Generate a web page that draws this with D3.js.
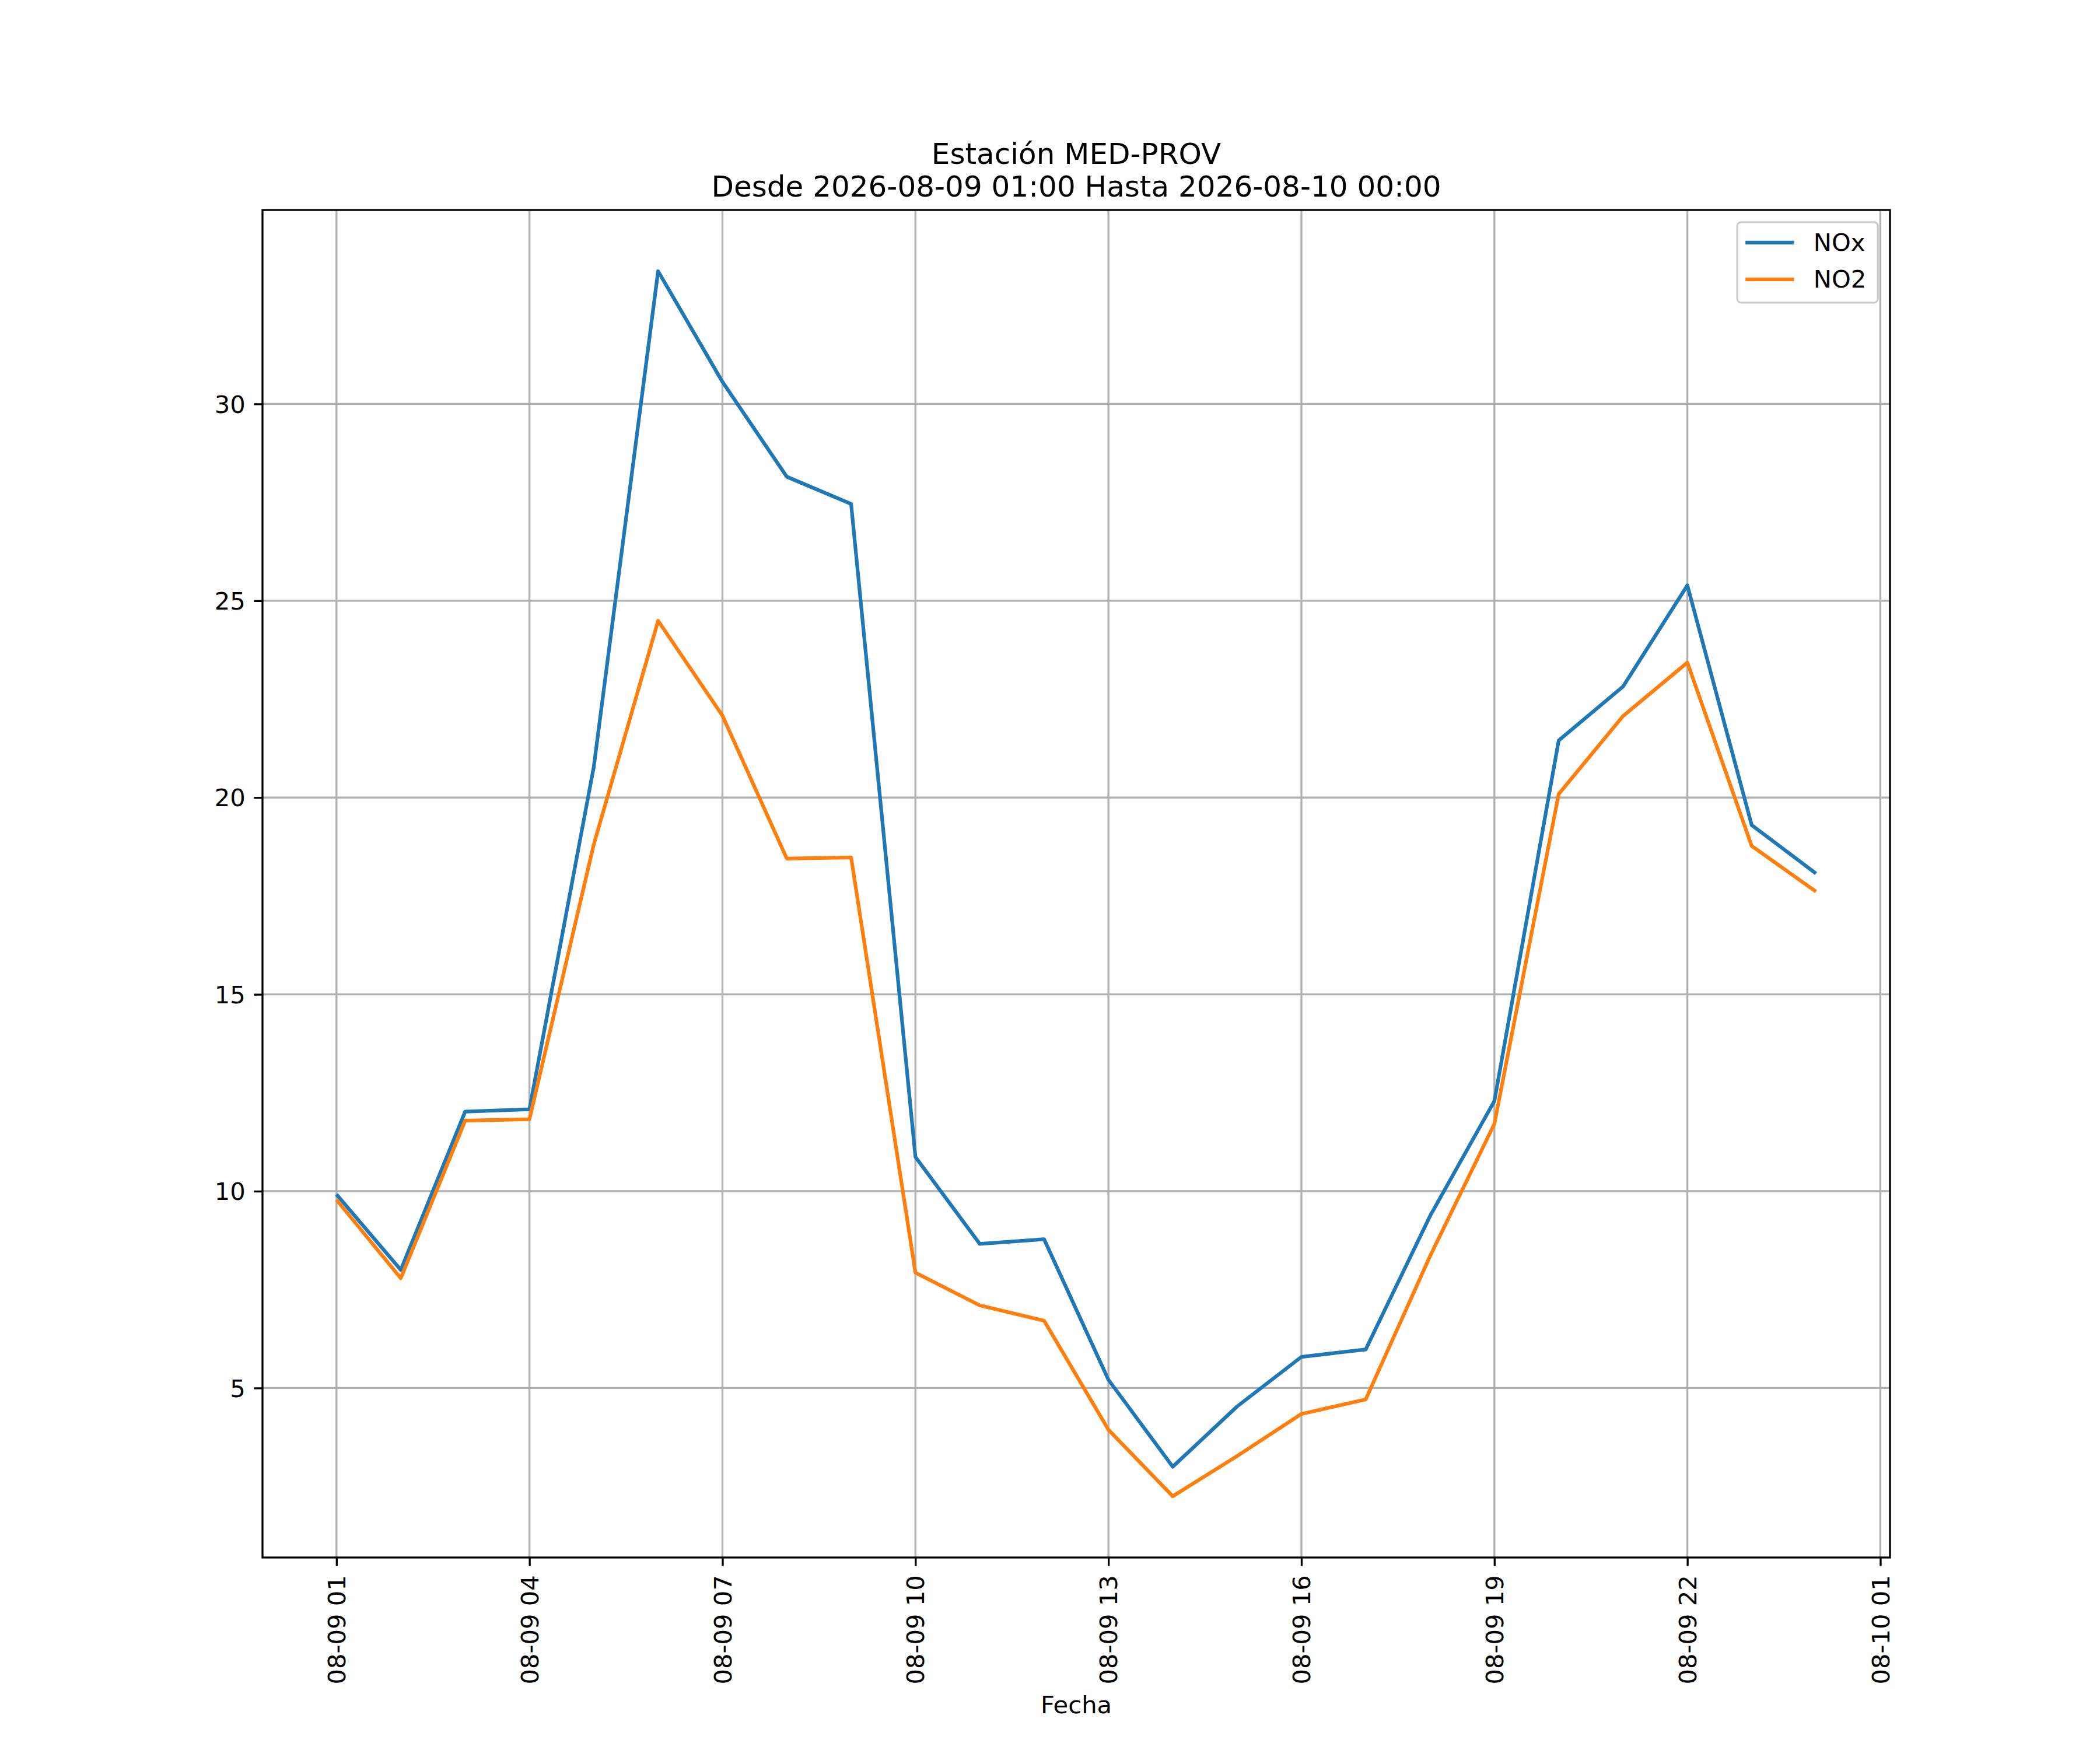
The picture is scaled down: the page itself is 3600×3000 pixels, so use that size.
<!DOCTYPE html>
<html>
<head>
<meta charset="utf-8">
<script src="https://cdn.jsdelivr.net/npm/d3@7"></script>
<style>
  body { margin: 0; background: #fff; }
  text { font-family: "DejaVu Sans", sans-serif; fill: #000; }
</style>
</head>
<body>
<div id="chart"></div>
<script>
// Datos horarios, 2026-08-09 01:00 .. 2026-08-10 00:00
var inicio = "2026-08-09T01:00:00Z",
    fin = "2026-08-10T00:00:00Z";

var noxValores = [9.92, 8.0, 12.02, 12.08, 20.78, 33.37, 30.56, 28.15, 27.46, 10.87,
                  8.66, 8.78, 5.21, 3.0, 4.53, 5.79, 5.98, 9.37, 12.29, 21.45,
                  22.82, 25.39, 19.3, 18.07];
var no2Valores = [9.78, 7.79, 11.79, 11.83, 18.81, 24.49, 22.08, 18.45, 18.48, 7.93,
                  7.1, 6.71, 3.94, 2.25, 3.27, 4.34, 4.71, 8.35, 11.71, 20.09,
                  22.07, 23.43, 18.77, 17.61];

var series = ["NOx", "NO2"];
var colores = ["#1f77b4", "#ff7f0e"];
var yTicks = [5, 10, 15, 20, 25, 30];
var xTickHoras = ["2026-08-09T01:00:00Z", "2026-08-09T04:00:00Z", "2026-08-09T07:00:00Z",
                  "2026-08-09T10:00:00Z", "2026-08-09T13:00:00Z", "2026-08-09T16:00:00Z",
                  "2026-08-09T19:00:00Z", "2026-08-09T22:00:00Z", "2026-08-10T01:00:00Z"];

var titulo = ["Estación MED-PROV", "Desde 2026-08-09 01:00 Hasta 2026-08-10 00:00"];
var xLabel = "Fecha";

// Tamaños (figura 12x10 in a 300 dpi)
var W = 3600, H = 3000,
    margin = {top: 360, right: 360, bottom: 330, left: 450},
    width = W - margin.left - margin.right,
    height = H - margin.top - margin.bottom,
    pt = 300 / 72,
    fs = 10 * pt;

var t0 = new Date(inicio), t1 = new Date(fin);
var horas = d3.utcHour.range(t0, d3.utcHour.offset(t1, 1));
var datos = [noxValores, no2Valores].map(function (vals) {
    return vals.map(function (v, i) { return {t: horas[i], v: v}; });
});

// Márgenes automáticos del 5% como matplotlib
var xPad = (t1 - t0) * 0.05;
var x = d3.scaleUtc()
    .domain([new Date(+t0 - xPad), new Date(+t1 + xPad)])
    .range([0, width]);

var todos = noxValores.concat(no2Valores);
var yMin = d3.min(todos), yMax = d3.max(todos), yPad = (yMax - yMin) * 0.05;
var y = d3.scaleLinear()
    .domain([yMin - yPad, yMax + yPad])
    .range([height, 0]);

var svg = d3.select("#chart").append("svg")
    .attr("width", W)
    .attr("height", H);
svg.append("rect").attr("width", W).attr("height", H).attr("fill", "#fff");

var g = svg.append("g")
    .attr("transform", "translate(" + margin.left + "," + margin.top + ")");

// Rejilla
var xTickFechas = xTickHoras.map(function (s) { return new Date(s); });
g.append("g").selectAll("line")
    .data(xTickFechas).enter().append("line")
    .attr("x1", function (d) { return x(d); })
    .attr("x2", function (d) { return x(d); })
    .attr("y1", 0).attr("y2", height)
    .attr("stroke", "#b0b0b0").attr("stroke-width", 0.8 * pt);
g.append("g").selectAll("line")
    .data(yTicks).enter().append("line")
    .attr("y1", function (d) { return y(d); })
    .attr("y2", function (d) { return y(d); })
    .attr("x1", 0).attr("x2", width)
    .attr("stroke", "#b0b0b0").attr("stroke-width", 0.8 * pt);

// Líneas
var line = d3.line()
    .x(function (d) { return x(d.t); })
    .y(function (d) { return y(d.v); });

g.append("g").selectAll("path")
    .data(datos).enter().append("path")
    .attr("d", line)
    .attr("fill", "none")
    .attr("stroke", function (d, i) { return colores[i]; })
    .attr("stroke-width", 1.5 * pt)
    .attr("stroke-linejoin", "round");

// Ejes
var fmt = d3.utcFormat("%m-%d %H");
var xAxis = g.append("g")
    .attr("transform", "translate(0," + height + ")")
    .call(d3.axisBottom(x).tickValues(xTickFechas).tickFormat(fmt)
        .tickSize(3.5 * pt).tickPadding(3.5 * pt).tickSizeOuter(0));
xAxis.select(".domain").remove();
xAxis.selectAll("line").attr("stroke-width", 0.8 * pt);
xAxis.selectAll("text")
    .attr("font-size", fs)
    .attr("font-family", "DejaVu Sans")
    .attr("text-anchor", "end")
    .attr("transform", "rotate(-90)")
    .attr("x", -(3.5 * pt + 3.5 * pt + 1))
    .attr("y", 0)
    .attr("dy", "0.35em");

var yAxis = g.append("g")
    .call(d3.axisLeft(y).tickValues(yTicks).tickFormat(d3.format("d"))
        .tickSize(3.5 * pt).tickPadding(3.5 * pt).tickSizeOuter(0));
yAxis.select(".domain").remove();
yAxis.selectAll("line").attr("stroke-width", 0.8 * pt);
yAxis.selectAll("text")
    .attr("font-size", fs)
    .attr("font-family", "DejaVu Sans")
    .attr("dy", "0.35em");

// Marco
g.append("rect")
    .attr("width", width).attr("height", height)
    .attr("fill", "none")
    .attr("stroke", "#000")
    .attr("stroke-width", 0.8 * pt);

// Título y etiqueta
svg.append("g").selectAll("text")
    .data(titulo).enter().append("text")
    .attr("x", margin.left + width / 2)
    .attr("y", function (d, i) { return 281 + i * 56; })
    .attr("text-anchor", "middle")
    .attr("font-size", 12 * pt)
    .text(function (d) { return d; });

svg.append("text")
    .attr("x", margin.left + width / 2)
    .attr("y", 2937)
    .attr("text-anchor", "middle")
    .attr("font-size", fs)
    .text(xLabel);

// Leyenda
var lx = margin.left + width - 0.5 * fs - 241, ly = margin.top + 0.5 * fs;
var legend = svg.append("g").attr("transform", "translate(" + lx + "," + ly + ")");
legend.append("rect")
    .attr("width", 241).attr("height", 138)
    .attr("rx", 0.2 * fs * 0.8).attr("ry", 0.2 * fs * 0.8)
    .attr("fill", "#fff").attr("fill-opacity", 0.8)
    .attr("stroke", "#cccccc").attr("stroke-width", 0.8 * pt);
var item = legend.selectAll(".item")
    .data(series).enter().append("g")
    .attr("class", "item")
    .attr("transform", function (d, i) { return "translate(0," + (35 + i * 63) + ")"; });
item.append("line")
    .attr("x1", 14).attr("x2", 14 + 2 * fs)
    .attr("stroke", function (d, i) { return colores[i]; })
    .attr("stroke-width", 1.5 * pt);
item.append("text")
    .attr("x", 14 + 2.8 * fs)
    .attr("dy", "0.35em")
    .attr("font-size", fs)
    .text(function (d) { return d; });
</script>
</body>
</html>
